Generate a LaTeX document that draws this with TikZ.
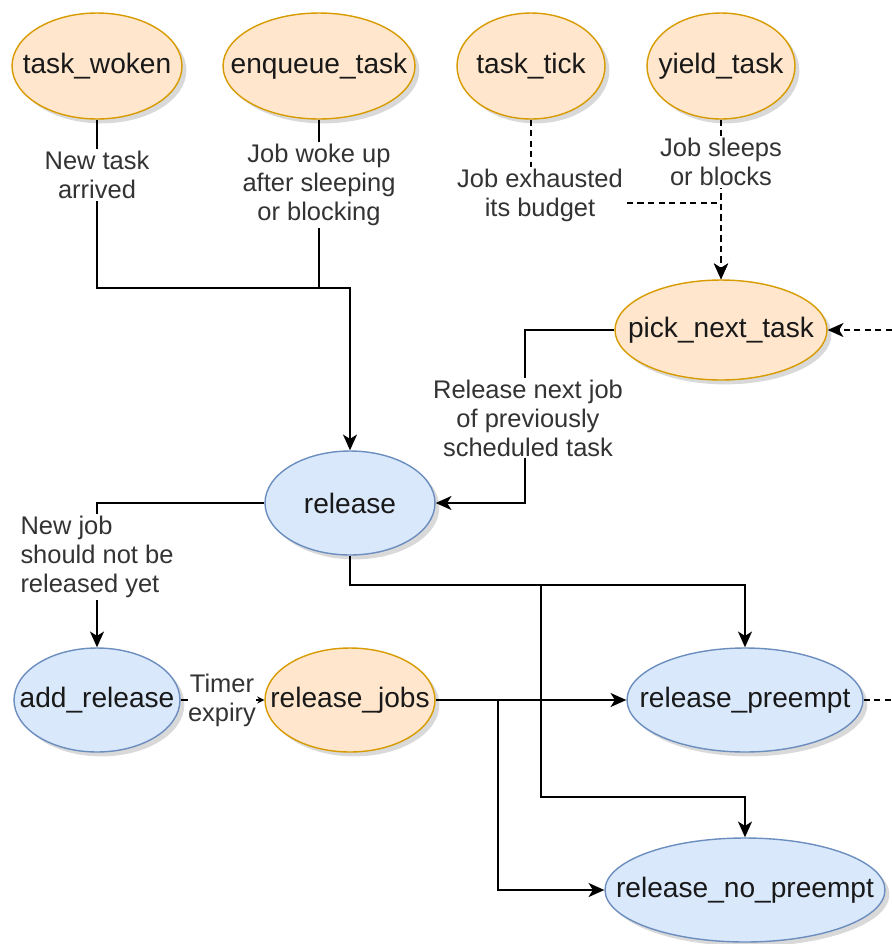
\documentclass[tikz,border=0pt]{standalone}
\usepackage{fontspec}
\setmainfont{Liberation Sans}
\usetikzlibrary{shapes.geometric,arrows.meta,shadows}

\definecolor{softorange}{RGB}{255,230,204}
\definecolor{deeporange}{RGB}{215,155,0}
\definecolor{softblue}{RGB}{218,232,252}
\definecolor{deepblue}{RGB}{108,142,191}

\newcommand{\fname}[1]{\makebox[0pt]{#1}}

\begin{document}
\begin{tikzpicture}[x=0.02cm,y=-0.02cm,
		hook/.style={ellipse, draw=deeporange, fill=softorange, line width=0.8pt, inner sep=0pt,
			font=\fontsize{16}{19}\selectfont, text=black!90,
			drop shadow={shadow xshift=2.5pt, shadow yshift=-2.5pt, opacity=0.3}},
		func/.style={hook, draw=deepblue, fill=softblue},
		why/.style={fill=white, inner sep=1pt, align=center, text=black!80,
			font=\fontsize{14.5}{16.5}\selectfont},
		flow/.style={line width=0.9pt, -{Stealth[length=9pt,width=8pt,inset=2.5pt]}},
		maybe/.style={flow, dash pattern=on 3.5pt off 2.5pt}]
			\useasboundingbox (0,0) rectangle (892,944);

			% Hooks called by the kernel
			\node[hook, minimum width=3.4cm, minimum height=2.12cm] (woken) at (97,66) {\fname{task\_woken}};
			\node[hook, minimum width=3.84cm, minimum height=2.12cm] (enqueue) at (319,66) {\fname{enqueue\_task}};
			\node[hook, minimum width=2.96cm, minimum height=2.12cm] (tick) at (531,66) {\fname{task\_tick}};
			\node[hook, minimum width=2.96cm, minimum height=2.12cm] (yield) at (721,66) {\fname{yield\_task}};
			\node[hook, minimum width=4.24cm, minimum height=2cm] (pick) at (721,330) {\fname{pick\_next\_task}};
			\node[hook, minimum width=3.4cm, minimum height=2.08cm] (jobs) at (350,700) {\fname{release\_jobs}};

			% Internal functions
			\node[func, minimum width=3.4cm, minimum height=2.08cm] (release) at (350,503) {\fname{release}};
			\node[func, minimum width=3.32cm, minimum height=2.08cm] (addrel) at (97,700) {\fname{add\_release}};
			\node[func, minimum width=4.72cm, minimum height=2.08cm] (preempt) at (745,700) {\fname{release\_preempt}};
			\node[func, minimum width=5.6cm, minimum height=2.08cm] (nopre) at (745,890) {\fname{release\_no\_preempt}};

			% Bend points
			\coordinate (joinA) at (350,288);
			\coordinate (tickbend) at (531,203);
			\coordinate (pickbend) at (525,330);
			\coordinate (relbend) at (525,503);
			\coordinate (addbend) at (97,503);
			\coordinate (prebend) at (745,585);
			\coordinate (relfork) at (541,585);
			\coordinate (nobend) at (745,797);
			\coordinate (jobsfork) at (498,700);
			\coordinate (offpick) at (892,330);
			\coordinate (offpre) at (892,700);

			% Edges into release
			\draw[flow] (woken) |- (joinA) -- (release);
			\draw[line width=0.9pt] (enqueue) |- (joinA);
			\draw[flow] (pick) -- (pickbend) -- (relbend) -- (release);

			% Edges into pick_next_task
			\draw[maybe] (tick) -- (tickbend) -| (pick);
			\draw[maybe] (yield) -- (pick);
			\draw[maybe] (offpick) -- (pick);

			% Edges out of release
			\draw[flow] (release) -- (addbend) -- (addrel);
			\draw[line width=0.9pt, -{Stealth[length=4pt,width=4pt]}] (addrel) -- (jobs);
			\draw[flow] (release) |- (prebend) -- (preempt);
			\draw[flow] (relfork) |- (nobend) -- (nopre);
			\draw[flow] (jobs) -- (preempt);
			\draw[flow] (jobsfork) |- (nopre);
			\draw[line width=0.9pt, dash pattern=on 3.5pt off 2.5pt] (preempt) -- (offpre);

			% Edge labels
			\node[why] (wokenwhy) at (97,175) {New task\\arrived};
			\node[why] (enqueuewhy) at (319,185) {Job woke up\\after sleeping\\or blocking};
			\node[why] (tickwhy) at (540,195) {Job exhausted\\its budget};
			\node[why] (yieldwhy) at (721,162) {Job sleeps\\or blocks};
			\node[why] (pickwhy) at (528,418) {Release next job\\of previously\\scheduled task};
			\node[why, align=left] (addwhy) at (97,557) {New job\\should not be\\released yet};
			\node[why, inner sep=0pt] (timerwhy) at (222,700) {Timer\\expiry};

		\end{tikzpicture}
\end{document}
